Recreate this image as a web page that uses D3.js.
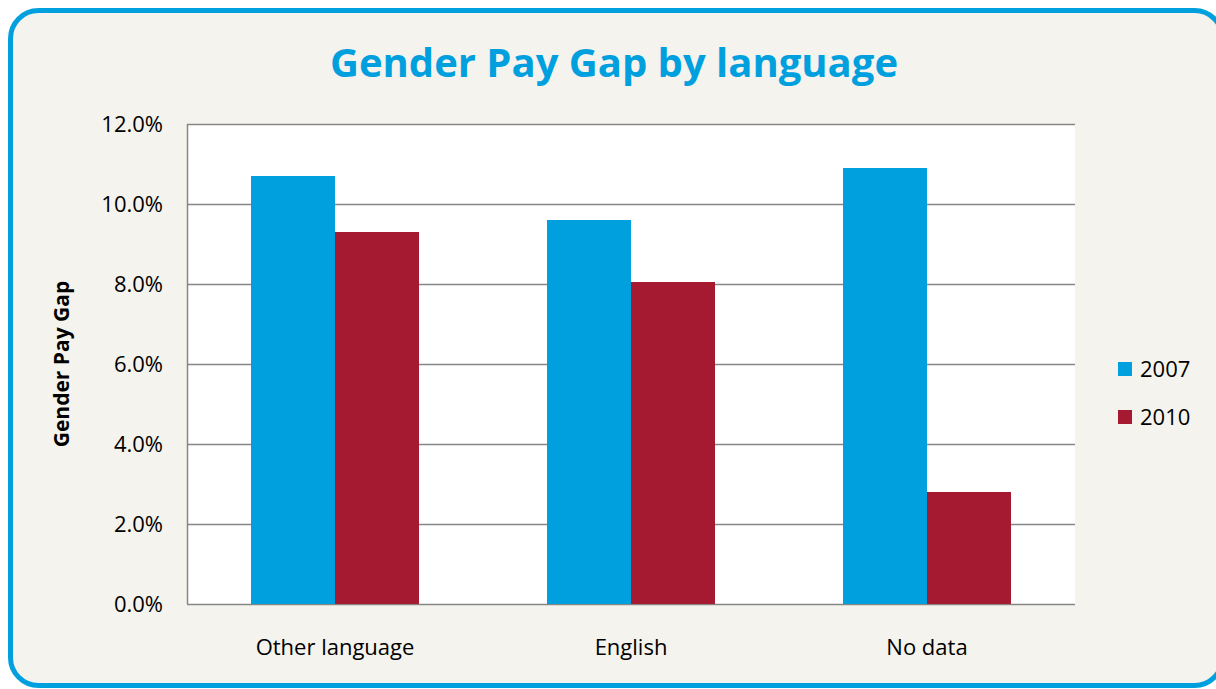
<!DOCTYPE html>
<html>
<head>
<meta charset="utf-8">
<script src="https://cdn.jsdelivr.net/npm/d3@7"></script>
<style>
  body { margin: 0; background: #fff; }
  svg { display: block; font-family: "Open Sans", sans-serif; }
</style>
</head>
<body>
<svg width="1216" height="689"></svg>
<script>
var categories = ["Other language", "English", "No data"];
var seriesNames = ["2007", "2010"];
var values2007 = [10.7, 9.6, 10.9];
var values2010 = [9.3, 8.05, 2.8];
var yTicks = [0, 2, 4, 6, 8, 10, 12];
var colors = ["#00a0df", "#a51931"];

var svg = d3.select("svg");

// frame
svg.append("rect")
    .attr("x", 10.5).attr("y", 10.5)
    .attr("width", 1212).attr("height", 675)
    .attr("rx", 28).attr("ry", 28)
    .attr("fill", "#f4f3ed")
    .attr("stroke", "#00a0df")
    .attr("stroke-width", 5);

svg.append("text")
    .attr("x", 614).attr("y", 77)
    .attr("text-anchor", "middle")
    .attr("font-size", 40)
    .attr("font-weight", "bold")
    .attr("fill", "#00a0df")
    .text("Gender Pay Gap by language");

var plotLeft = 187, plotRight = 1075, plotTop = 124, plotBottom = 604;

var x = d3.scaleBand().domain(categories).range([plotLeft, plotRight]).paddingInner(0).paddingOuter(0);
var xs = d3.scaleBand().domain(seriesNames).range([0, x.bandwidth()]).paddingOuter(0.762).paddingInner(0);
var y = d3.scaleLinear().domain([0, 12]).range([plotBottom, plotTop]);

svg.append("rect")
    .attr("x", plotLeft).attr("y", plotTop)
    .attr("width", plotRight - plotLeft).attr("height", plotBottom - plotTop)
    .attr("fill", "#fff");

// gridlines
svg.append("g").selectAll("line")
    .data(yTicks)
    .enter().append("line")
    .attr("x1", plotLeft).attr("x2", plotRight)
    .attr("y1", function (d) { return Math.round(y(d)) + 0.5; })
    .attr("y2", function (d) { return Math.round(y(d)) + 0.5; })
    .attr("stroke", "#868686")
    .attr("stroke-width", 1.5);

svg.append("line")
    .attr("x1", plotLeft + 0.5).attr("x2", plotLeft + 0.5)
    .attr("y1", plotTop).attr("y2", plotBottom)
    .attr("stroke", "#868686")
    .attr("stroke-width", 1.5);

var data = [];
categories.forEach(function (c, i) {
    data.push({ cat: c, s: "2007", v: values2007[i], col: colors[0] });
    data.push({ cat: c, s: "2010", v: values2010[i], col: colors[1] });
});

svg.append("g").selectAll("rect")
    .data(data)
    .enter().append("rect")
    .attr("x", function (d) { return x(d.cat) + xs(d.s); })
    .attr("width", xs.bandwidth())
    .attr("y", function (d) { return y(d.v); })
    .attr("height", function (d) { return plotBottom - y(d.v); })
    .attr("fill", function (d) { return d.col; });

// y tick labels
svg.append("g").selectAll("text")
    .data(yTicks)
    .enter().append("text")
    .attr("x", 163)
    .attr("y", function (d) { return y(d) + 8; })
    .attr("text-anchor", "end")
    .attr("font-size", 22)
    .attr("fill", "#000")
    .text(function (d) { return d3.format(".1f")(d) + "%"; });

// x labels
svg.append("g").selectAll("text")
    .data(categories)
    .enter().append("text")
    .attr("x", function (d) { return x(d) + x.bandwidth() / 2; })
    .attr("y", 655)
    .attr("text-anchor", "middle")
    .attr("font-size", 22)
    .attr("fill", "#000")
    .text(function (d) { return d; });

svg.append("text")
    .attr("transform", "translate(69,364) rotate(-90)")
    .attr("text-anchor", "middle")
    .attr("font-size", 21)
    .attr("font-weight", "bold")
    .text("Gender Pay Gap");

// legend
var legend = svg.append("g").selectAll("g")
    .data(seriesNames)
    .enter().append("g")
    .attr("transform", function (d, i) { return "translate(1118," + (362 + i * 48) + ")"; });
legend.append("rect")
    .attr("width", 14).attr("height", 14)
    .attr("fill", function (d, i) { return colors[i]; });
legend.append("text")
    .attr("x", 22).attr("y", 15)
    .attr("font-size", 22)
    .text(function (d) { return d; });
</script>
</body>
</html>
